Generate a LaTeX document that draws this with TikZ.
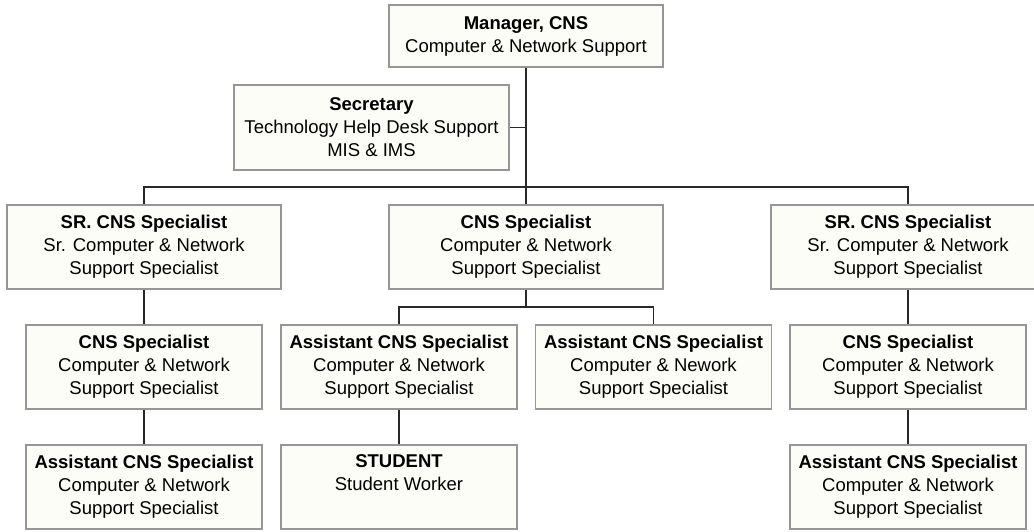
\documentclass[tikz,border=0pt]{standalone}
\usepackage{fontspec}
\setmainfont{Liberation Sans}
\definecolor{boxfill}{RGB}{253,253,247}
\definecolor{boxline}{RGB}{150,150,150}
\definecolor{wire}{RGB}{40,40,40}
\begin{document}
\begin{tikzpicture}[x=1pt,y=-1pt,
  post/.style={draw=boxline,fill=boxfill,line width=1.4pt,inner sep=0pt,
    align=center,text=black,font=\fontsize{18.5}{23}\selectfont},
  wide/.style={post,minimum width=274pt,minimum height=84pt},
  narrow/.style={post,minimum width=236pt,minimum height=84pt},
  link/.style={draw=wire,line width=1.4pt}]
\useasboundingbox (0,0) rectangle (1034,532);
\clip (0,0) rectangle (1034,532);

% top of the chart
\node[post,minimum width=274pt,minimum height=62pt] (mgr) at (526,36)
  {\textbf{Manager, CNS}\\Computer \& Network Support};
\node[post,minimum width=275pt,minimum height=85pt] (sec) at (371.5,127.5)
  {\textbf{Secretary}\\Technology Help Desk Support\\MIS \& IMS};

% second level
\node[wide] (srL) at (144,247) {\textbf{SR. CNS Specialist}\\Sr. Computer \& Network\\Support Specialist};
\node[wide] (cnsM) at (526,247) {\textbf{CNS Specialist}\\Computer \& Network\\Support Specialist};
\node[wide] (srR) at (908,247) {\textbf{SR. CNS Specialist}\\Sr. Computer \& Network\\Support Specialist};

% third level
\node[narrow] (cnsL) at (144,367) {\textbf{CNS Specialist}\\Computer \& Network\\Support Specialist};
\node[narrow] (asM1) at (399,367) {\textbf{Assistant CNS Specialist}\\Computer \& Network\\Support Specialist};
\node[narrow] (asM2) at (653.5,367) {\textbf{Assistant CNS Specialist}\\Computer \& Nework\\Support Specialist};
\node[narrow] (cnsR) at (908,367) {\textbf{CNS Specialist}\\Computer \& Network\\Support Specialist};

% fourth level
\node[narrow] (asL) at (144,487) {\textbf{Assistant CNS Specialist}\\Computer \& Network\\Support Specialist};
\node[narrow] (stu) at (399,487) {\textbf{STUDENT}\\Student Worker\\\strut};
\node[narrow] (asR) at (908,487) {\textbf{Assistant CNS Specialist}\\Computer \& Network\\Support Specialist};

% connectors
\coordinate (bus) at (526,187);
\coordinate (split) at (526,307);
\draw[link] (mgr.south) -- (bus);
\draw[link] (sec.east) -- (sec.east -| mgr.south);
\draw[link] (srL.north) |- (bus) -| (srR.north);
\draw[link] (bus) -- (cnsM.north);
\draw[link] (cnsM.south) -- (split);
\draw[link] (asM1.north) |- (split) -| (asM2.north);
\draw[link] (srL.south) -- (cnsL.north);
\draw[link] (cnsL.south) -- (asL.north);
\draw[link] (asM1.south) -- (stu.north);
\draw[link] (srR.south) -- (cnsR.north);
\draw[link] (cnsR.south) -- (asR.north);
\end{tikzpicture}
\end{document}
